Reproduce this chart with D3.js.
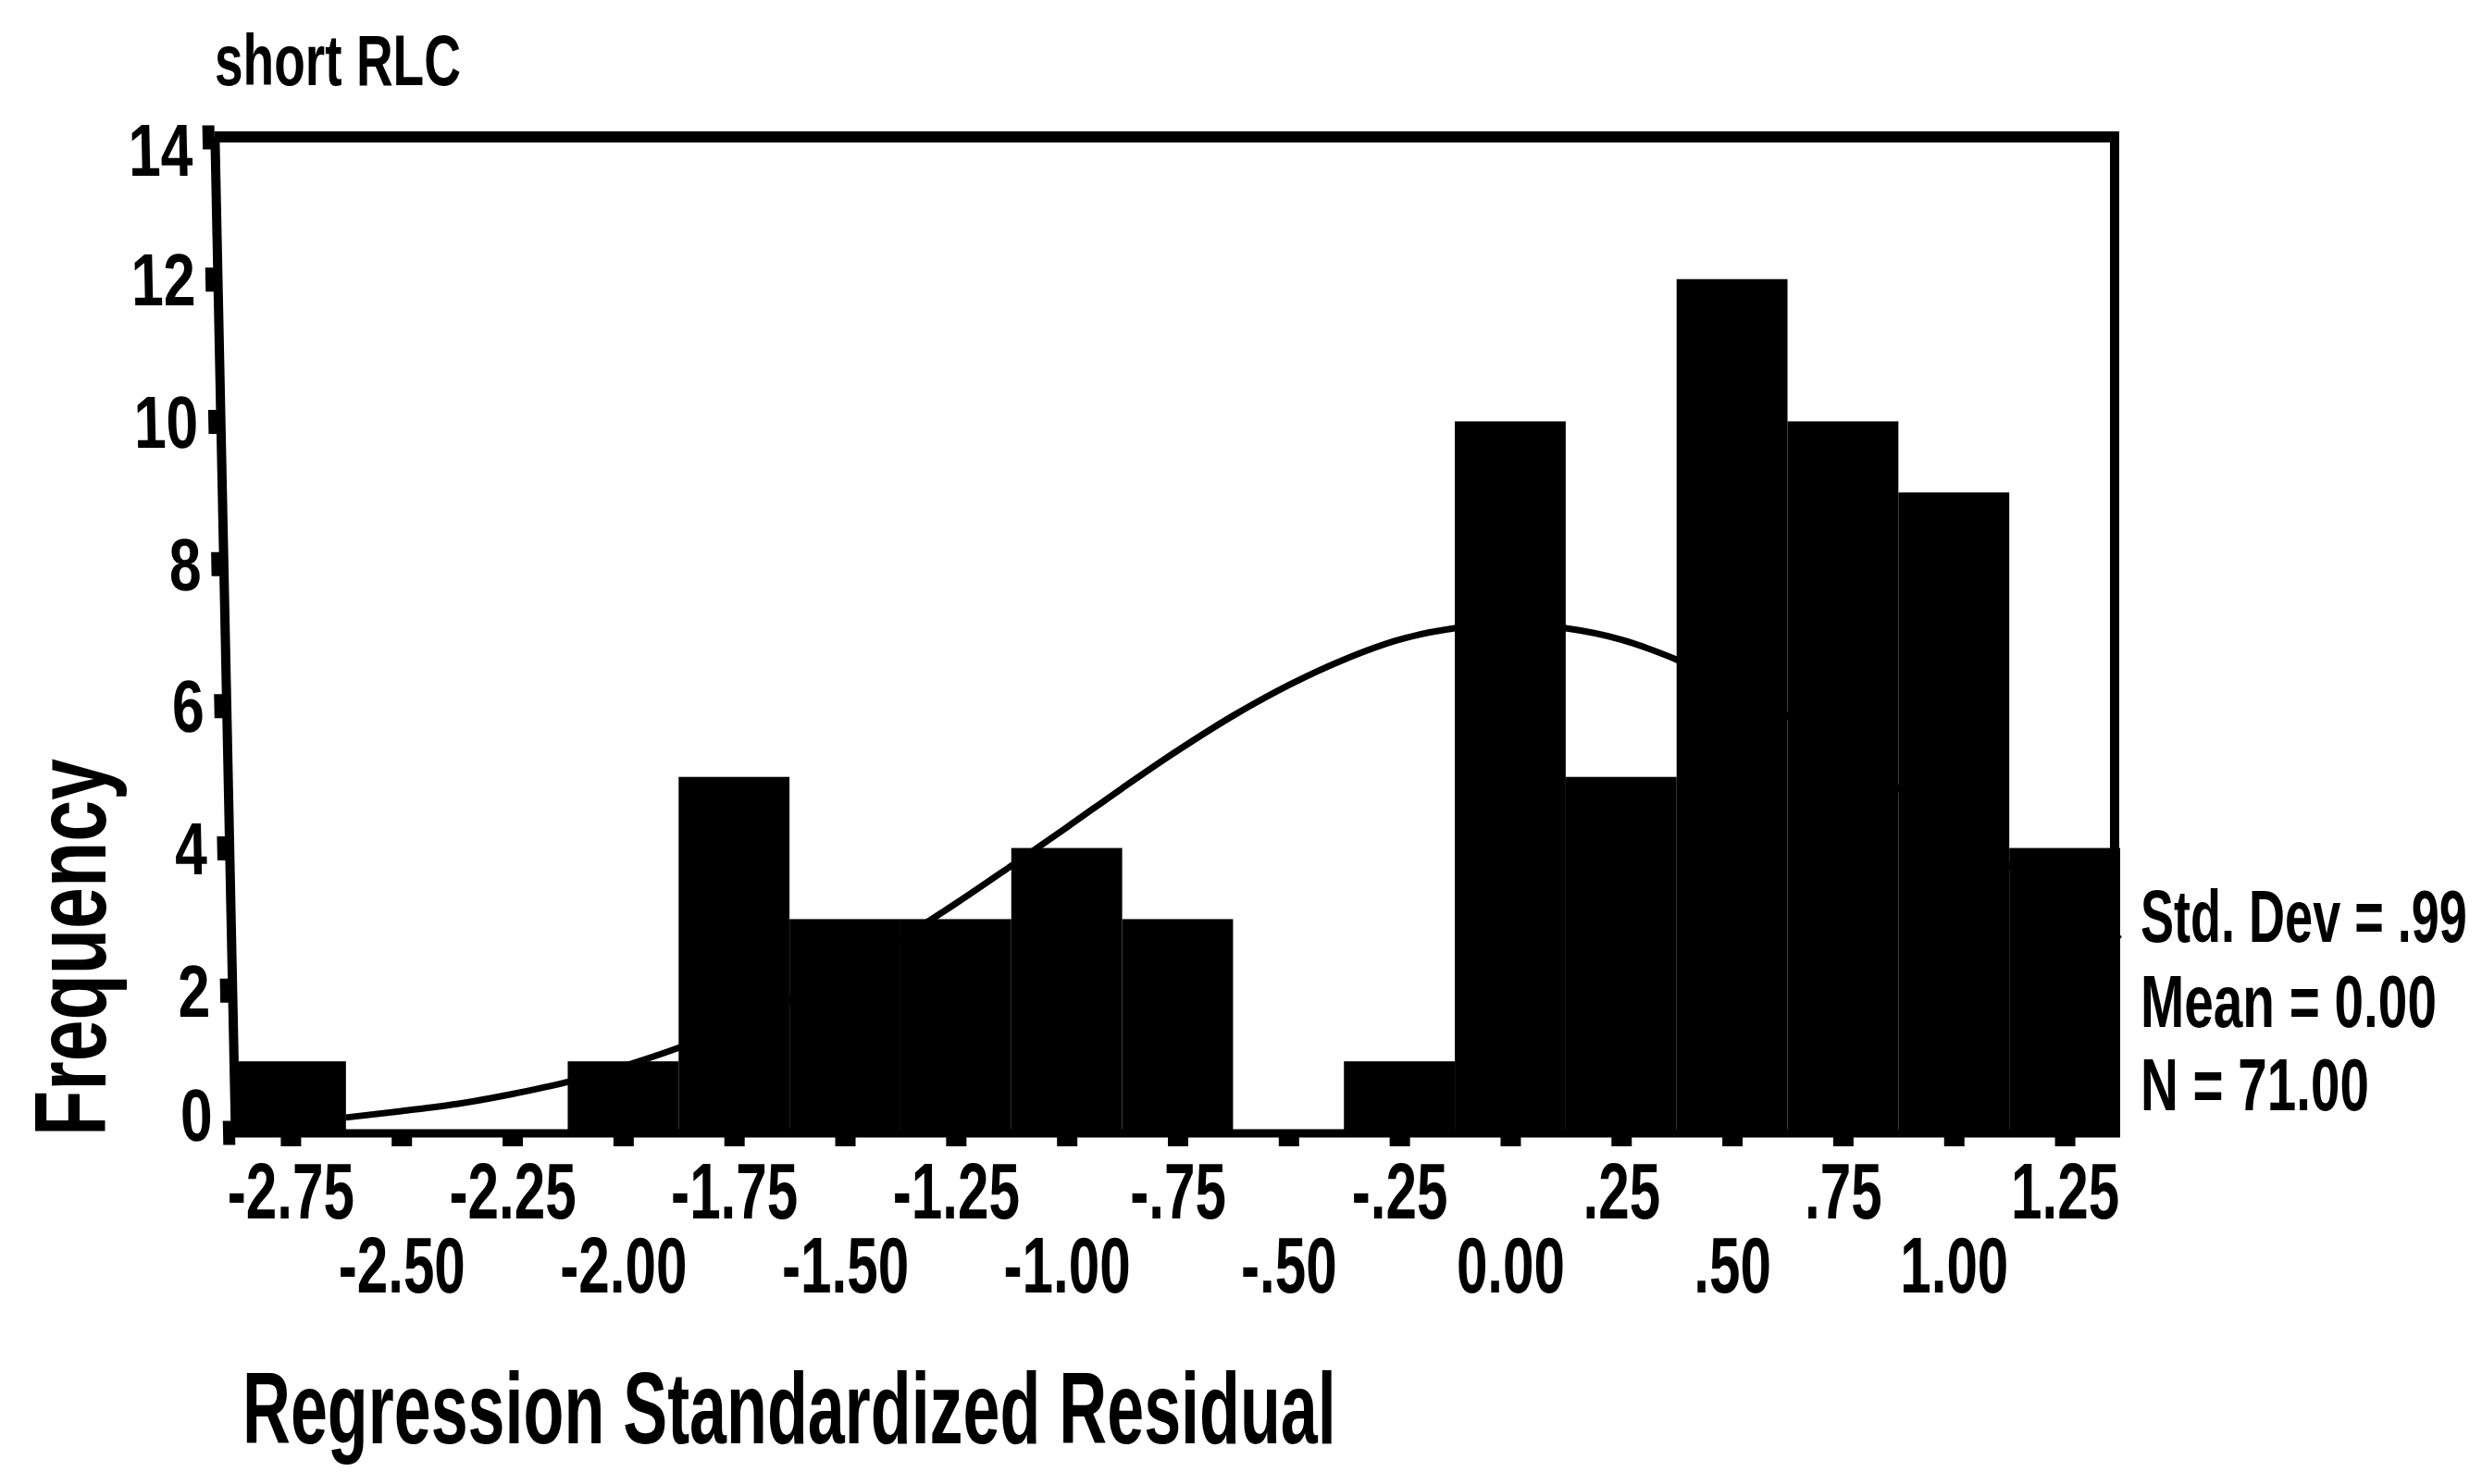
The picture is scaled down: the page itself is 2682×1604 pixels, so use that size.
<!DOCTYPE html>
<html>
<head>
<meta charset="utf-8">
<script src="https://cdn.jsdelivr.net/npm/d3@7"></script>
<style>
  html, body { margin: 0; padding: 0; background: #fff; }
  svg { display: block; }
  text { font-family: "Liberation Sans", Arial, Helvetica, sans-serif; fill: #000; font-weight: bold; }
</style>
</head>
<body>
<svg id="chart" width="2682" height="1604"></svg>
<script>
// Histogram of regression standardized residuals with a fitted normal curve

const chartTitle = "short RLC";
const xTitle = "Regression Standardized Residual";
const yTitle = "Frequency";

// bin midpoints (bin width 0.25) and their counts
const binCenters = [-2.75, -2.50, -2.25, -2.00, -1.75, -1.50, -1.25, -1.00, -0.75,
                    -0.50, -0.25, 0.00, 0.25, 0.50, 0.75, 1.00, 1.25];
const frequencies = [1, 0, 0, 1, 5, 3, 3, 4, 3, 0, 1, 10, 5, 12, 10, 9, 4];

const xTickLabels = ["-2.75", "-2.50", "-2.25", "-2.00", "-1.75", "-1.50", "-1.25", "-1.00", "-.75",
                     "-.50", "-.25", "0.00", ".25", ".50", ".75", "1.00", "1.25"];
const yTicks = [0, 2, 4, 6, 8, 10, 12, 14];

// normal curve overlay, sampled along the residual axis
const curveX = [-2.625, -2.5, -2.375, -2.25, -2.125, -2.0, -1.875, -1.75, -1.625, -1.5, -1.375,
                -1.25, -1.125, -1.0, -0.875, -0.75, -0.625, -0.5, -0.375, -0.25, -0.125, 0,
                0.125, 0.25, 0.375, 0.5, 0.625, 0.75, 0.875, 1.0, 1.125, 1.25, 1.375];
const curveY = [0.21, 0.30, 0.40, 0.54, 0.71, 0.93, 1.19, 1.50, 1.86, 2.27, 2.72,
                3.22, 3.75, 4.29, 4.84, 5.37, 5.86, 6.29, 6.65, 6.93, 7.09, 7.15,
                7.09, 6.93, 6.65, 6.29, 5.86, 5.37, 4.84, 4.29, 3.75, 3.22, 2.72];

const statsLines = ["Std. Dev = .99", "Mean = 0.00", "N = 71.00"];

// ---- layout ----
const binWidth = binCenters[1] - binCenters[0];
const xMin = binCenters[0] - binWidth / 2;
const xMax = binCenters[binCenters.length - 1] + binWidth / 2;

const x = d3.scaleLinear().domain([xMin, xMax]).range([254, 2291]);
const y = d3.scaleLinear().domain([0, 14]).range([1224, 148]);
const y0 = y(0);
const lean = 0.0206;            // the vertical axis leans slightly to the left at the top
const leanDeg = Math.atan(lean) * 180 / Math.PI;

const svg = d3.select("#chart");

// narrow a text horizontally by a factor of its natural width
function condense(sel, f) {
  sel.each(function () {
    const w = this.getComputedTextLength();
    d3.select(this).attr("textLength", w * f).attr("lengthAdjust", "spacingAndGlyphs");
  });
}

// place a text at (px, py) squeezed to a given width
function squeezeTo(sel, px, py, width) {
  sel.each(function (d, i) {
    const w = this.getComputedTextLength();
    const X = typeof px === "function" ? px(d, i) : px;
    const Y = typeof py === "function" ? py(d, i) : py;
    const W = typeof width === "function" ? width(d, i) : width;
    d3.select(this).attr("transform", `translate(${X},${Y}) scale(${W / w},1)`);
  });
}

// bars
const bars = binCenters.map((c, i) => ({ c, n: frequencies[i] }));
svg.append("g")
  .selectAll("rect")
  .data(bars)
  .join("rect")
  .attr("x", d => x(d.c - binWidth / 2))
  .attr("width", d => x(d.c + binWidth / 2) - x(d.c - binWidth / 2))
  .attr("y", d => y(d.n))
  .attr("height", d => y0 - y(d.n) + 3)
  .attr("fill", "#000");

// normal curve
const line = d3.line()
  .x((d, i) => x(curveX[i]))
  .y(d => y(d))
  .curve(d3.curveMonotoneX);
svg.append("path")
  .attr("d", line(curveY))
  .attr("fill", "none")
  .attr("stroke", "#000")
  .attr("stroke-width", 7);

// frame: top and right edges
const topLeftX = x(xMin) - lean * (y0 - y(14));
svg.append("line")
  .attr("x1", topLeftX).attr("x2", x(xMax) - 2)
  .attr("y1", y(14)).attr("y2", y(14))
  .attr("stroke", "#000").attr("stroke-width", 12);
svg.append("line")
  .attr("x1", x(xMax) - 6).attr("x2", x(xMax) - 6)
  .attr("y1", y(14) - 6).attr("y2", y0)
  .attr("stroke", "#000").attr("stroke-width", 10);

// baseline
svg.append("line")
  .attr("x1", x(xMin)).attr("x2", x(xMax))
  .attr("y1", y0 + 1).attr("y2", y0 + 1)
  .attr("stroke", "#000").attr("stroke-width", 9);

// x axis: ticks under every bin, labels staggered on two rows
const xAxis = d3.axisBottom(x)
  .tickValues(binCenters)
  .tickFormat((d, i) => xTickLabels[i])
  .tickSize(15)
  .tickSizeOuter(0);
const gx = svg.append("g").attr("transform", `translate(0,${y0})`).call(xAxis);
gx.select(".domain").remove();
gx.selectAll(".tick line").attr("stroke", "#000").attr("stroke-width", 22);
gx.selectAll(".tick text")
  .attr("font-size", 86)
  .attr("font-weight", "bold")
  .attr("dy", 0)
  .attr("y", (d, i) => (i % 2 === 0 ? 93 : 173))
  .call(condense, 0.7);

// y axis, leaning with the frame
const yAxis = d3.axisLeft(y)
  .tickValues(yTicks)
  .tickSize(13)
  .tickSizeOuter(0)
  .tickPadding(11);
const gy = svg.append("g")
  .attr("transform", `translate(${x(xMin)},${y0}) skewX(${leanDeg}) translate(0,${-y0})`)
  .call(yAxis);
gy.select(".domain").attr("stroke", "#000").attr("stroke-width", 10);
gy.selectAll(".tick line").attr("stroke", "#000").attr("stroke-width", 26);
gy.selectAll(".tick text")
  .attr("font-size", 80)
  .attr("font-weight", "bold")
  .attr("dy", d => (d === 0 ? "0.1em" : d === 14 ? "0.52em" : "0.35em"))
  .call(condense, 0.78);

// titles
svg.append("text")
  .attr("font-size", 78)
  .text(chartTitle)
  .call(squeezeTo, 232, 92, 266);

svg.append("text")
  .attr("font-size", 110)
  .text(xTitle)
  .call(squeezeTo, 262, 1560, 1182);

svg.append("text")
  .attr("transform", "translate(114,1228) rotate(-90)")
  .attr("font-size", 110)
  .attr("textLength", 408).attr("lengthAdjust", "spacingAndGlyphs")
  .text(yTitle);

// summary statistics beside the plot
const statBaselines = [1018, 1110, 1200];
const statWidths = [353, 320, 247];
svg.append("g")
  .selectAll("text")
  .data(statsLines)
  .join("text")
  .attr("font-size", 80)
  .text(d => d)
  .call(squeezeTo, 2313, (d, i) => statBaselines[i], (d, i) => statWidths[i]);
</script>
</body>
</html>
